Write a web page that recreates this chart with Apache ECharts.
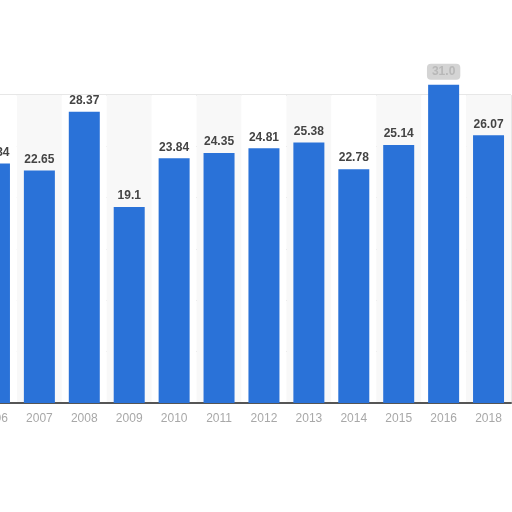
<!DOCTYPE html>
<html><head><meta charset="utf-8">
<script src="https://cdn.jsdelivr.net/npm/echarts@6/dist/echarts.min.js"></script>
<style>html,body{margin:0;padding:0;background:#fff;overflow:hidden}#c{position:absolute;left:-28px;top:0;width:540px;height:512px}</style>
</head><body><div id="c"></div>
<script>
const categories = ['2006','2007','2008','2009','2010','2011','2012','2013','2014','2015','2016','2018'];
const values = [23.34, 22.65, 28.37, 19.1, 23.84, 24.35, 24.81, 25.38, 22.78, 25.14, 31.0, 26.07];
const labelTexts = ['23.34','22.65','28.37','19.1','23.84','24.35','24.81','25.38','22.78','25.14','31.0','26.07'];

const chart = echarts.init(document.getElementById('c'));
chart.setOption({
  animation: false,
  grid: { left: 0, right: 1, top: 95, bottom: 109, show: true, borderColor: '#cfcfcf', borderWidth: 1, backgroundColor: 'transparent' },
  xAxis: {
    type: 'category', data: categories,
    axisLine: { lineStyle: { color: '#555', width: 2 } },
    axisTick: { show: false },
    axisLabel: { color: '#a8a8a8', fontSize: 12, fontFamily: 'Liberation Sans', margin: 10 },
    splitArea: { show: true, areaStyle: { color: ['#ffffff', '#f8f8f8'] } }
  },
  yAxis: {
    type: 'value', min: 0, max: 30, interval: 5,
    axisLabel: { show: false }, axisLine: { show: false }, axisTick: { show: false },
    splitLine: { lineStyle: { color: '#c4c4c4', type: 'dotted' } }
  },
  series: [{
    type: 'bar', data: values.map((v, i) => ({
      value: v,
      label: i === 10 ? { backgroundColor: '#d4d4d4', padding: [2, 5], borderRadius: 4, color: '#b8b8b8' } : {}
    })),
    clip: false,
    barWidth: 31,
    itemStyle: { color: '#2a72d8' },
    label: {
      show: true, position: 'top', distance: 5,
      color: '#444', fontWeight: 'bold', fontSize: 12, fontFamily: 'Liberation Sans',
      formatter: p => labelTexts[p.dataIndex]
    }
  }]
});
</script></body></html>
